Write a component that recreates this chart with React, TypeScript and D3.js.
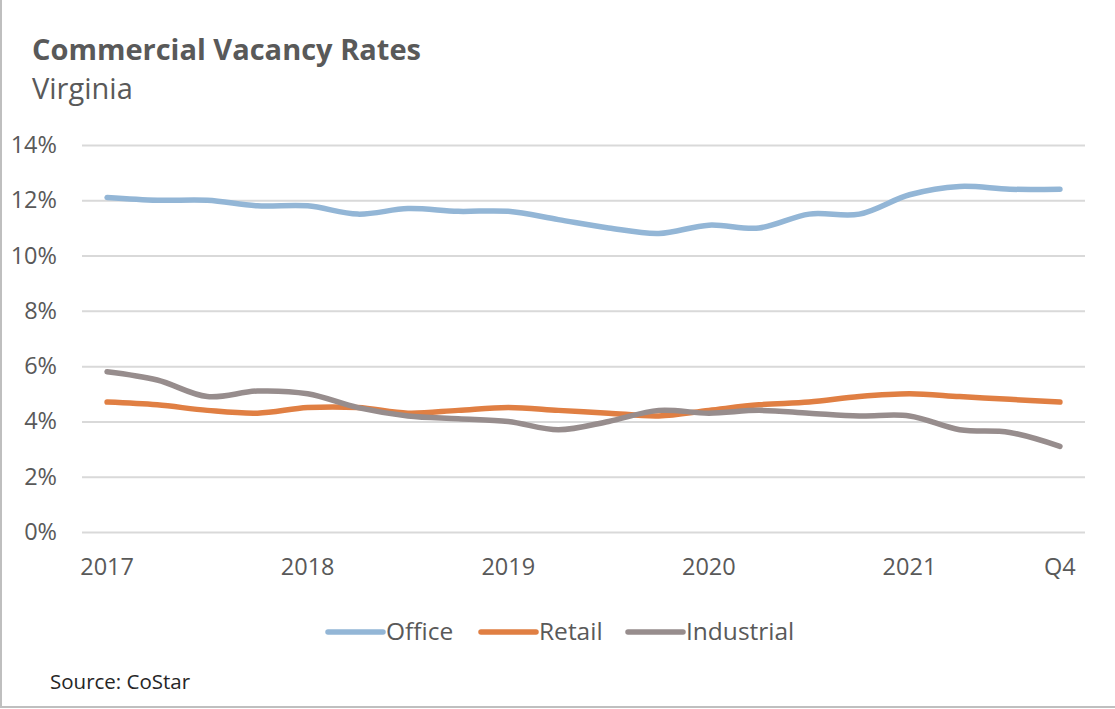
import React, { useEffect, useRef } from "react";
import * as d3 from "d3";

const width = 1115;
const height = 709;
const margin = { top: 145, right: 30, bottom: 177, left: 82 };

const quarters = [
  "2017 Q1", "2017 Q2", "2017 Q3", "2017 Q4",
  "2018 Q1", "2018 Q2", "2018 Q3", "2018 Q4",
  "2019 Q1", "2019 Q2", "2019 Q3", "2019 Q4",
  "2020 Q1", "2020 Q2", "2020 Q3", "2020 Q4",
  "2021 Q1", "2021 Q2", "2021 Q3", "2021 Q4",
];
const tickLabels: Record<string, string> = {
  "2017 Q1": "2017",
  "2018 Q1": "2018",
  "2019 Q1": "2019",
  "2020 Q1": "2020",
  "2021 Q1": "2021",
  "2021 Q4": "Q4",
};
const yTicks = [0, 2, 4, 6, 8, 10, 12, 14];

const office = [12.1, 12.0, 12.0, 11.8, 11.8, 11.5, 11.7, 11.6, 11.6, 11.3, 11.0, 10.8, 11.1, 11.0, 11.5, 11.5, 12.2, 12.5, 12.4, 12.4];
const retail = [4.7, 4.6, 4.4, 4.3, 4.5, 4.5, 4.3, 4.4, 4.5, 4.4, 4.3, 4.2, 4.4, 4.6, 4.7, 4.9, 5.0, 4.9, 4.8, 4.7];
const industrial = [5.8, 5.5, 4.9, 5.1, 5.0, 4.5, 4.2, 4.1, 4.0, 3.7, 4.0, 4.4, 4.3, 4.4, 4.3, 4.2, 4.2, 3.7, 3.6, 3.1];

const series = [
  { name: "Office", values: office, color: "#93b6d6" },
  { name: "Retail", values: retail, color: "#e07f43" },
  { name: "Industrial", values: industrial, color: "#978d8d" },
];

const font = "'Open Sans', sans-serif";
const textColor = "#595959";

function Chart() {
  const ref = useRef<SVGSVGElement>(null);

  useEffect(() => {
    const svg = d3.select(ref.current);
    svg.selectAll("*").remove();

    const x = d3
      .scaleBand()
      .domain(quarters)
      .range([margin.left, width - margin.right]);
    const y = d3
      .scaleLinear()
      .domain([0, 14])
      .range([height - margin.bottom, margin.top]);
    const cx = (q: string) => (x(q) as number) + x.bandwidth() / 2;

    // frame (left and bottom only)
    svg.append("line")
      .attr("x1", 1).attr("x2", 1).attr("y1", 0).attr("y2", height - 1)
      .attr("stroke", "#bfbfbf").attr("stroke-width", 2);
    svg.append("line")
      .attr("x1", 0).attr("x2", width).attr("y1", height - 2).attr("y2", height - 2)
      .attr("stroke", "#bfbfbf").attr("stroke-width", 2);

    // title
    svg.append("text")
      .attr("x", 32).attr("y", 60)
      .attr("font-family", font).attr("font-weight", 700).attr("font-size", 29)
      .attr("fill", textColor)
      .text("Commercial Vacancy Rates");
    svg.append("text")
      .attr("x", 32).attr("y", 99)
      .attr("font-family", font).attr("font-size", 29)
      .attr("fill", textColor)
      .text("Virginia");

    // gridlines + y labels
    const yAxis = d3.axisLeft(y).tickValues(yTicks)
      .tickSize(-(width - margin.left - margin.right))
      .tickFormat(d => `${d}%`);
    const gy = svg.append("g")
      .attr("transform", `translate(${margin.left},0)`)
      .call(yAxis);
    gy.select(".domain").remove();
    gy.selectAll(".tick line").attr("stroke", "#d9d9d9").attr("stroke-width", 2);
    gy.selectAll(".tick text")
      .attr("x", -25)
      .attr("font-family", font).attr("font-size", 23.5)
      .attr("fill", textColor);

    // x labels
    const xAxis = d3.axisBottom(x)
      .tickValues(quarters.filter(q => tickLabels[q]))
      .tickSize(0)
      .tickFormat(q => tickLabels[q]);
    const gx = svg.append("g")
      .attr("transform", `translate(0,${height - margin.bottom})`)
      .call(xAxis);
    gx.select(".domain").remove();
    gx.selectAll(".tick text")
      .attr("y", 43)
      .attr("dy", 0)
      .attr("font-family", font).attr("font-size", 23.5)
      .attr("fill", textColor);

    // lines
    const line = d3.line<number>()
      .x((_, i) => cx(quarters[i]))
      .y(d => y(d))
      .curve(d3.curveCatmullRom.alpha(0.5));
    series.forEach(s => {
      svg.append("path")
        .datum(s.values)
        .attr("d", line)
        .attr("fill", "none")
        .attr("stroke", s.color)
        .attr("stroke-width", 5.5)
        .attr("stroke-linecap", "round")
        .attr("stroke-linejoin", "round");
    });

    // legend
    const legendX = [328, 481, 628];
    const lg = svg.append("g").attr("transform", "translate(0,632)");
    series.forEach((s, i) => {
      lg.append("line")
        .attr("x1", legendX[i]).attr("x2", legendX[i] + 55)
        .attr("stroke", s.color).attr("stroke-width", 5.5)
        .attr("stroke-linecap", "round");
      lg.append("text")
        .attr("x", legendX[i] + 58).attr("y", 8)
        .attr("font-family", font).attr("font-size", 24.5)
        .attr("fill", textColor)
        .text(s.name);
    });

    // source
    svg.append("text")
      .attr("x", 50).attr("y", 689)
      .attr("font-family", font).attr("font-size", 20.5)
      .attr("fill", "#262626")
      .text("Source: CoStar");
  }, []);

  return <svg ref={ref} width={width} height={height} style={{ display: "block" }} />;
}

export default function App() {
  return (
    <div style={{ position: "absolute", left: 0, top: 0, background: "#fff" }}>
      <Chart />
    </div>
  );
}
